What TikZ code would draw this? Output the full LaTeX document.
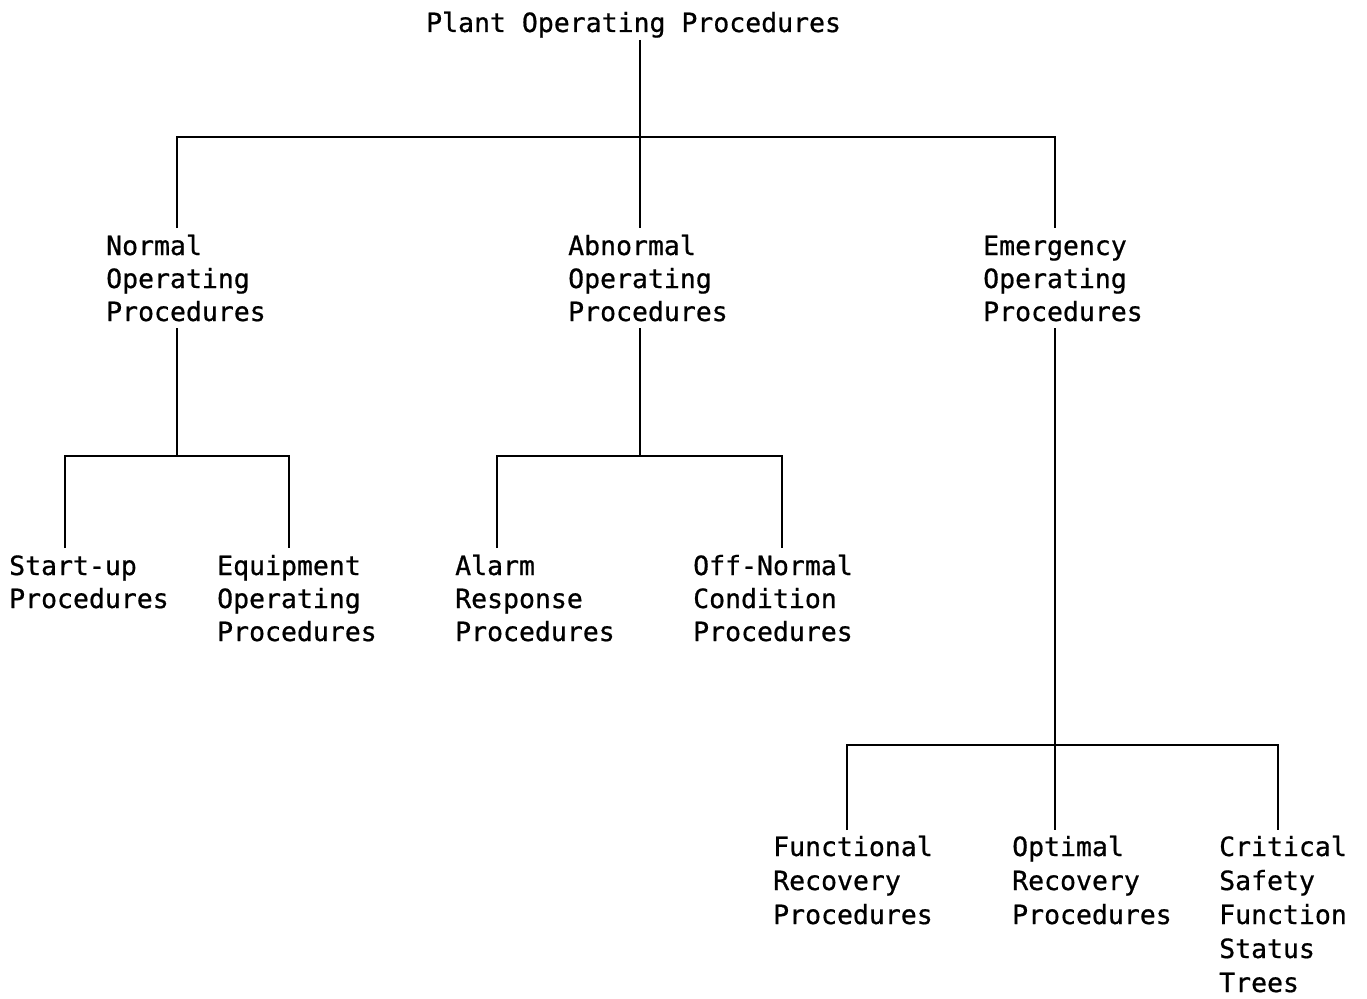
\documentclass[tikz,border=0pt]{standalone}
\usepackage{fontspec}
\newfontfamily\lblface[FakeBold=0.7]{DejaVu Sans Mono}
\newcommand\lblfont{\lblface\fontsize{26.5}{33}\selectfont}
\newcommand\lblfontb{\lblface\fontsize{26.5}{34}\selectfont}
\newcommand\stack[1]{\begin{tabular}[t]{@{}l@{}}#1\end{tabular}}
\begin{document}
\begin{tikzpicture}[x=1pt,y=-1pt,
  conn/.style={line width=2.4pt, line cap=butt},
  lbl/.style={anchor=base west, inner sep=0pt, font=\lblfont},
  lblb/.style={anchor=base west, inner sep=0pt, font=\lblfontb}]
\useasboundingbox (0,0) rectangle (1367,998);

% labels
\node[lbl] (plant) at (426,32) {Plant Operating Procedures};
\node[lbl] (nop) at (106,255) {\stack{Normal\\Operating\\Procedures}};
\node[lbl] (aop) at (568,255) {\stack{Abnormal\\Operating\\Procedures}};
\node[lbl] (eop) at (983,255) {\stack{Emergency\\Operating\\Procedures}};
\node[lbl] (su) at (9,575) {\stack{Start-up\\Procedures}};
\node[lbl] (eq) at (217,575) {\stack{Equipment\\Operating\\Procedures}};
\node[lbl] (al) at (455,575) {\stack{Alarm\\Response\\Procedures}};
\node[lbl] (on) at (693,575) {\stack{Off-Normal\\Condition\\Procedures}};
\node[lblb] (fr) at (773,856) {\stack{Functional\\Recovery\\Procedures}};
\node[lblb] (orp) at (1012,856) {\stack{Optimal\\Recovery\\Procedures}};
\node[lblb] (cs) at (1219,856) {\stack{Critical\\Safety\\Function\\Status\\Trees}};

% junction coordinates
\coordinate (t0) at (640,40);
\coordinate (b0) at (640,137);
\coordinate (b0l) at (177,137);
\coordinate (b0r) at (1055,137);
\coordinate (nopin) at (177,228);
\coordinate (aopin) at (640,228);
\coordinate (eopin) at (1055,228);

\coordinate (nopout) at (177,328);
\coordinate (b1) at (177,456);
\coordinate (b1l) at (65,456);
\coordinate (b1r) at (289,456);
\coordinate (suin) at (65,548);
\coordinate (eqin) at (289,548);

\coordinate (aopout) at (640,328);
\coordinate (b2) at (640,456);
\coordinate (b2l) at (497,456);
\coordinate (b2r) at (782,456);
\coordinate (alin) at (497,548);
\coordinate (onin) at (782,548);

\coordinate (eopout) at (1055,328);
\coordinate (b3) at (1055,745);
\coordinate (b3l) at (847,745);
\coordinate (b3r) at (1278,745);
\coordinate (frin) at (847,830);
\coordinate (orin) at (1055,830);
\coordinate (csin) at (1278,830);

% connectors
\draw[conn] (t0) -- (b0);
\draw[conn] (nopin) -- (b0l) -- (b0r) -- (eopin);
\draw[conn] (b0) -- (aopin);

\draw[conn] (nopout) -- (b1);
\draw[conn] (suin) -- (b1l) -- (b1r) -- (eqin);

\draw[conn] (aopout) -- (b2);
\draw[conn] (alin) -- (b2l) -- (b2r) -- (onin);

\draw[conn] (eopout) -- (b3);
\draw[conn] (frin) -- (b3l) -- (b3r) -- (csin);
\draw[conn] (b3) -- (orin);
\end{tikzpicture}
\end{document}
